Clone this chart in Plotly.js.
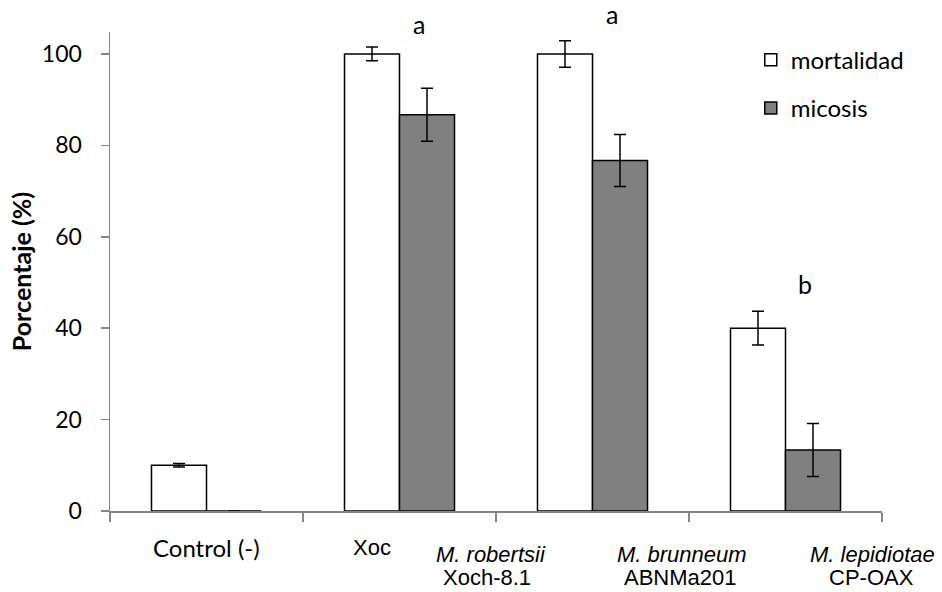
<!DOCTYPE html>
<html>
<head>
<meta charset="utf-8">
<script src="https://cdn.plot.ly/plotly-3.0.1.min.js"></script>
<style>
  html, body { margin: 0; padding: 0; background: #ffffff; }
  #chart { width: 942px; height: 592px; }
</style>
</head>
<body>
<div id="chart"></div>
<script>
// Treatment groups (one bar pair per group)
const categories = ['Control (-)', 'M. robertsii Xoch-8.1', 'M. brunneum ABNMa201', 'M. lepidiotae CP-OAX'];

// Percent mortality and mycosis per group, with standard errors
const mortalidad = [10, 100, 100, 40];
const mortalidadErr = [0.4, 1.5, 2.9, 3.7];
const micosis = [0, 86.67, 76.67, 13.33];
const micosisErr = [0, 5.8, 5.7, 5.8];

// Significance letters per group and the height they sit at (percent)
const letters = ['', 'a', 'a', 'b'];
const letterHeights = [0, 106.5, 108.7, 49.7];

// Axis labels written beneath the groups
const axisLabels = [
  { text: 'Control (-)', italic: false, calibri: true },
  { text: 'Xoc', italic: false },
  { text: 'M. robertsii', italic: true },
  { text: 'Xoch-8.1', italic: false },
  { text: 'M. brunneum', italic: true },
  { text: 'ABNMa201', italic: false },
  { text: 'M. lepidiotae', italic: true },
  { text: 'CP-OAX', italic: false }
];
const yTicks = [0, 20, 40, 60, 80, 100];

const Y_MAX = 104.8;
const SANS = 'Lato, "Open Sans", sans-serif';
const ARIAL = '"Liberation Sans", Arial, sans-serif';
const AXIS_GREY = '#868686';

const traces = [
  {
    type: 'bar', name: 'mortalidad', x: categories, y: mortalidad,
    legendgroup: 'm',
    marker: { color: '#ffffff', line: { color: '#000000', width: 1.5 } },
    error_y: { type: 'data', array: mortalidadErr, visible: true, color: '#000000', thickness: 1.5, width: 6 }
  },
  {
    type: 'bar', name: 'micosis', x: categories, y: micosis,
    legendgroup: 'c',
    marker: { color: '#808080', line: { color: '#000000', width: 1.5 } },
    error_y: { type: 'data', array: micosisErr, visible: true, color: '#000000', thickness: 1.5, width: 6 }
  }
];

// placement of the axis labels: [category position, pixel offset below the axis]
const labelPlacement = [
  [0, 36], [0.855, 36],
  [1.472, 43], [1.451, 66],
  [2.466, 43], [2.456, 66],
  [3.451, 43], [3.446, 66]
];

const annotations = [];
axisLabels.forEach((lab, i) => {
  annotations.push({
    xref: 'x', yref: 'paper',
    x: labelPlacement[i][0], y: 0,
    yshift: -labelPlacement[i][1],
    xanchor: 'center', yanchor: 'middle',
    text: lab.italic ? '<i>' + lab.text + '</i>' : lab.text,
    showarrow: false,
    font: lab.calibri ? { family: SANS, size: 24, color: '#000000' }
                      : { family: ARIAL, size: 22, color: '#000000' }
  });
});

// letters sit slightly right of each group's centre
const letterOffset = 0.1;
letters.forEach((t, i) => {
  if (!t) return;
  annotations.push({
    xref: 'x', yref: 'paper',
    x: i + letterOffset, y: letterHeights[i] / Y_MAX,
    xanchor: 'center', yanchor: 'middle',
    text: t, showarrow: false,
    font: { family: SANS, size: 25, color: '#000000' }
  });
});

const layout = {
  width: 942, height: 592,
  margin: { l: 110, r: 60, t: 32, b: 81 },
  paper_bgcolor: '#ffffff', plot_bgcolor: '#ffffff',
  barmode: 'group', bargap: 0.43, bargroupgap: 0,
  showlegend: true,
  legend: {
    x: 0.83, y: 0.988, xanchor: 'left', yanchor: 'top',
    font: { family: SANS, size: 24, color: '#000000' },
    tracegroupgap: 14, bgcolor: 'rgba(0,0,0,0)', borderwidth: 0
  },
  xaxis: {
    type: 'category',
    range: [-0.5, 3.5],
    showticklabels: false,
    showline: true, linecolor: AXIS_GREY, linewidth: 1.5,
    ticks: 'outside', tickson: 'boundaries', ticklen: 9, tickcolor: AXIS_GREY, tickwidth: 1.5,
    showgrid: false, zeroline: false, fixedrange: true
  },
  yaxis: {
    range: [0, Y_MAX],
    tickvals: yTicks,
    showline: true, linecolor: AXIS_GREY, linewidth: 1.5,
    ticks: 'outside', ticklen: 8, tickcolor: AXIS_GREY, tickwidth: 1.5,
    ticklabelstandoff: 14,
    tickfont: { family: SANS, size: 23, color: '#000000' },
    showgrid: false, zeroline: false,
    title: { text: '<b>Porcentaje (%)</b>', font: { family: SANS, size: 25, color: '#000000' }, standoff: 3 }
  },
  annotations: annotations
};

Plotly.newPlot('chart', traces, layout, { staticPlot: true });
</script>
</body>
</html>
